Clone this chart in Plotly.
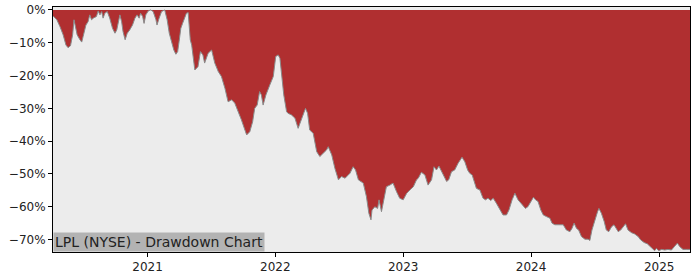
import plotly.graph_objects as go

dates = [
    "2020-04-06", "2020-04-17", "2020-04-26", "2020-05-05", "2020-05-13", "2020-05-19", "2020-05-26",
    "2020-06-01", "2020-06-05", "2020-06-08", "2020-06-14", "2020-06-22", "2020-06-27", "2020-07-01",
    "2020-07-09", "2020-07-15", "2020-07-20", "2020-07-25", "2020-07-30", "2020-08-08", "2020-08-13",
    "2020-08-18", "2020-08-23", "2020-08-27", "2020-09-01", "2020-09-08", "2020-09-15", "2020-09-23",
    "2020-09-30", "2020-10-05", "2020-10-09", "2020-10-14", "2020-10-19", "2020-10-23", "2020-10-29",
    "2020-11-04", "2020-11-11", "2020-11-19", "2020-11-26", "2020-12-02", "2020-12-08", "2020-12-12",
    "2020-12-18", "2020-12-22", "2020-12-27", "2021-01-03", "2021-01-10", "2021-01-17", "2021-01-25",
    "2021-01-28", "2021-02-03", "2021-02-10", "2021-02-19", "2021-02-26", "2021-03-04", "2021-03-11",
    "2021-03-17", "2021-03-23", "2021-03-28", "2021-04-01", "2021-04-06", "2021-04-11", "2021-04-16",
    "2021-04-22", "2021-04-27", "2021-04-30", "2021-05-03", "2021-05-07", "2021-05-10", "2021-05-16",
    "2021-05-25", "2021-06-01", "2021-06-08", "2021-06-13", "2021-06-23", "2021-07-03", "2021-07-12",
    "2021-07-22", "2021-07-31", "2021-08-10", "2021-08-19", "2021-08-29", "2021-09-07", "2021-09-17",
    "2021-09-26", "2021-10-06", "2021-10-11", "2021-10-20", "2021-10-28", "2021-11-03", "2021-11-10",
    "2021-11-17", "2021-11-22", "2021-11-27", "2021-12-05", "2021-12-16", "2021-12-26", "2022-01-02",
    "2022-01-09", "2022-01-14", "2022-01-19", "2022-01-25", "2022-02-02", "2022-02-06", "2022-02-16",
    "2022-02-26", "2022-03-07", "2022-03-17", "2022-03-28", "2022-04-03", "2022-04-09", "2022-04-19",
    "2022-04-29", "2022-05-08", "2022-05-18", "2022-05-27", "2022-06-01", "2022-06-11", "2022-06-20",
    "2022-06-30", "2022-07-09", "2022-07-19", "2022-08-02", "2022-08-11", "2022-08-18", "2022-08-26",
    "2022-09-09", "2022-09-18", "2022-09-25", "2022-10-01", "2022-10-04", "2022-10-12", "2022-10-20",
    "2022-10-24", "2022-10-31", "2022-11-08", "2022-11-14", "2022-11-24", "2022-12-03", "2022-12-13",
    "2022-12-22", "2023-01-01", "2023-01-11", "2023-01-20", "2023-01-30", "2023-02-08", "2023-02-13",
    "2023-02-22", "2023-03-04", "2023-03-13", "2023-03-23", "2023-03-30", "2023-04-06", "2023-04-13",
    "2023-04-21", "2023-04-28", "2023-05-05", "2023-05-11", "2023-05-19", "2023-05-28", "2023-06-07",
    "2023-06-18", "2023-06-26", "2023-07-04", "2023-07-10", "2023-07-17", "2023-07-23", "2023-07-29",
    "2023-08-08", "2023-08-17", "2023-08-24", "2023-08-31", "2023-09-08", "2023-09-15", "2023-09-24",
    "2023-10-04", "2023-10-13", "2023-10-23", "2023-10-30", "2023-11-08", "2023-11-16", "2023-11-25",
    "2023-12-03", "2023-12-09", "2023-12-16", "2023-12-23", "2023-12-31", "2024-01-08", "2024-01-14",
    "2024-01-21", "2024-01-29", "2024-02-05", "2024-02-14", "2024-02-24", "2024-03-01", "2024-03-09",
    "2024-03-23", "2024-04-02", "2024-04-11", "2024-04-21", "2024-04-27", "2024-05-03", "2024-05-10",
    "2024-05-16", "2024-05-24", "2024-06-03", "2024-06-12", "2024-06-17", "2024-06-23", "2024-07-01",
    "2024-07-09", "2024-07-13", "2024-07-20", "2024-07-28", "2024-08-03", "2024-08-10", "2024-08-18",
    "2024-08-25", "2024-09-01", "2024-09-06", "2024-09-13", "2024-09-20", "2024-09-27", "2024-10-04",
    "2024-10-14", "2024-10-23", "2024-11-02", "2024-11-09", "2024-11-19", "2024-11-28", "2024-12-05",
    "2024-12-12", "2024-12-19", "2024-12-24", "2024-12-31", "2025-01-08", "2025-01-17", "2025-01-26",
    "2025-02-05", "2025-02-13", "2025-02-22", "2025-03-01", "2025-03-10", "2025-03-20", "2025-03-30",
]

drawdown_pct = [
    -1.8, -3.0, -5.1, -7.6, -10.7, -11.5, -10.9,
    -7.6, -3.0, -4.6, -7.6, -9.1, -9.8, -8.1,
    -4.6, -3.6, -1.5, -3.0, -2.5, -2.0, -0.3,
    -1.5, -0.5, -2.5, -1.0, -0.5, -2.5, -5.6,
    -7.1, -6.1, -3.6, -1.5, -3.6, -6.6, -9.1,
    -7.1, -6.1, -4.6, -2.5, -1.5, -2.5, -1.0,
    -2.0, -4.1, -1.5, -0.3, 0.0, -0.5, -3.0,
    -4.6, -2.5, -0.5, 0.0, -3.0, -7.1, -10.2,
    -12.2, -13.5, -12.7, -9.7, -5.6, -4.1, -2.5,
    -1.0, -0.8, -4.6, -9.1, -10.7, -13.7, -18.3,
    -17.3, -12.7, -13.7, -16.2, -13.2, -12.2, -16.2,
    -18.8, -20.3, -23.9, -28.0, -27.4, -28.4, -31.0,
    -33.5, -36.6, -38.1, -37.1, -34.1, -30.0, -29.0,
    -24.9, -25.9, -29.0, -25.9, -22.9, -20.3, -14.2,
    -13.7, -14.7, -20.8, -25.9, -31.0, -31.5, -32.0,
    -33.0, -36.1, -33.0, -30.0, -31.5, -36.6, -37.6,
    -43.2, -44.7, -43.7, -42.7, -41.7, -44.2, -48.3,
    -51.8, -50.8, -51.3, -49.8, -47.8, -48.8, -51.8,
    -52.8, -56.9, -62.0, -64.0, -61.0, -60.0, -60.5,
    -57.9, -61.5, -56.9, -53.9, -53.4, -52.8, -55.4,
    -57.4, -57.9, -55.9, -54.9, -53.9, -51.8, -51.3,
    -49.5, -50.3, -53.4, -51.8, -47.8, -48.8, -47.6,
    -49.3, -50.8, -52.3, -51.8, -49.3, -48.8, -46.7,
    -44.9, -46.3, -48.8, -49.8, -50.3, -52.3, -54.4,
    -54.9, -57.4, -57.9, -57.4, -58.1, -57.4, -58.9,
    -61.0, -62.5, -62.5, -61.0, -57.9, -55.9, -57.9,
    -58.9, -59.5, -60.5, -60.0, -58.4, -57.1, -57.9,
    -58.4, -61.0, -62.5, -63.0, -63.5, -65.0, -65.5,
    -65.5, -65.5, -67.1, -67.6, -66.6, -65.0, -66.6,
    -67.1, -69.1, -69.9, -69.9, -70.3, -67.1, -64.0,
    -61.5, -60.5, -62.0, -64.5, -67.1, -67.6, -66.1,
    -65.5, -66.6, -67.6, -67.1, -66.1, -65.2, -67.1,
    -67.9, -68.3, -69.1, -70.1, -70.9, -71.3, -72.0,
    -72.7, -73.4, -72.7, -73.4, -73.0, -73.2, -73.0,
    -73.2, -72.2, -71.1, -72.2, -73.0, -73.0, -73.0,
]

y_tick_values = [0, -10, -20, -30, -40, -50, -60, -70]
y_tick_labels = ["0%", "−10%", "−20%", "−30%", "−40%", "−50%", "−60%", "−70%"]
x_tick_values = ["2021-01-01", "2022-01-01", "2023-01-01", "2024-01-01", "2025-01-01"]
x_tick_labels = ["2021", "2022", "2023", "2024", "2025"]
title_text = "LPL (NYSE) - Drawdown Chart"

fig = go.Figure()
fig.add_trace(go.Scatter(
    x=dates, y=drawdown_pct, mode="lines",
    line=dict(color="#8a8a8a", width=1),
    fill="tozeroy", fillcolor="#b02f30",
    hoverinfo="skip", showlegend=False,
))

font_family = "DejaVu Sans"
fig.update_layout(
    width=700, height=280,
    margin=dict(l=53, r=10, t=7, b=28),
    paper_bgcolor="white", plot_bgcolor="#ececec",
    font=dict(family=font_family, size=12, color="#222222"),
    showlegend=False,
)
fig.update_xaxes(
    range=["2020-04-06", "2025-03-30"],
    tickvals=x_tick_values, ticktext=x_tick_labels,
    showgrid=False, zeroline=False,
    showline=True, linecolor="black", linewidth=1, mirror=True,
    ticks="outside", ticklen=4, tickcolor="black",
    automargin=False,
)
fig.update_yaxes(
    range=[-73.8, 0.9],
    tickvals=y_tick_values, ticktext=y_tick_labels,
    showgrid=False, zeroline=False,
    showline=True, linecolor="black", linewidth=1, mirror=True,
    ticks="outside", ticklen=4, tickcolor="black",
    automargin=False,
)
fig.add_annotation(
    text=title_text, xref="paper", yref="paper", x=0, y=0,
    xanchor="left", yanchor="bottom", showarrow=False,
    bgcolor="#b3b3b3", borderpad=1,
    font=dict(family=font_family, size=14, color="#222222"),
)

fig.write_html("out.html", config={"displayModeBar": False})
